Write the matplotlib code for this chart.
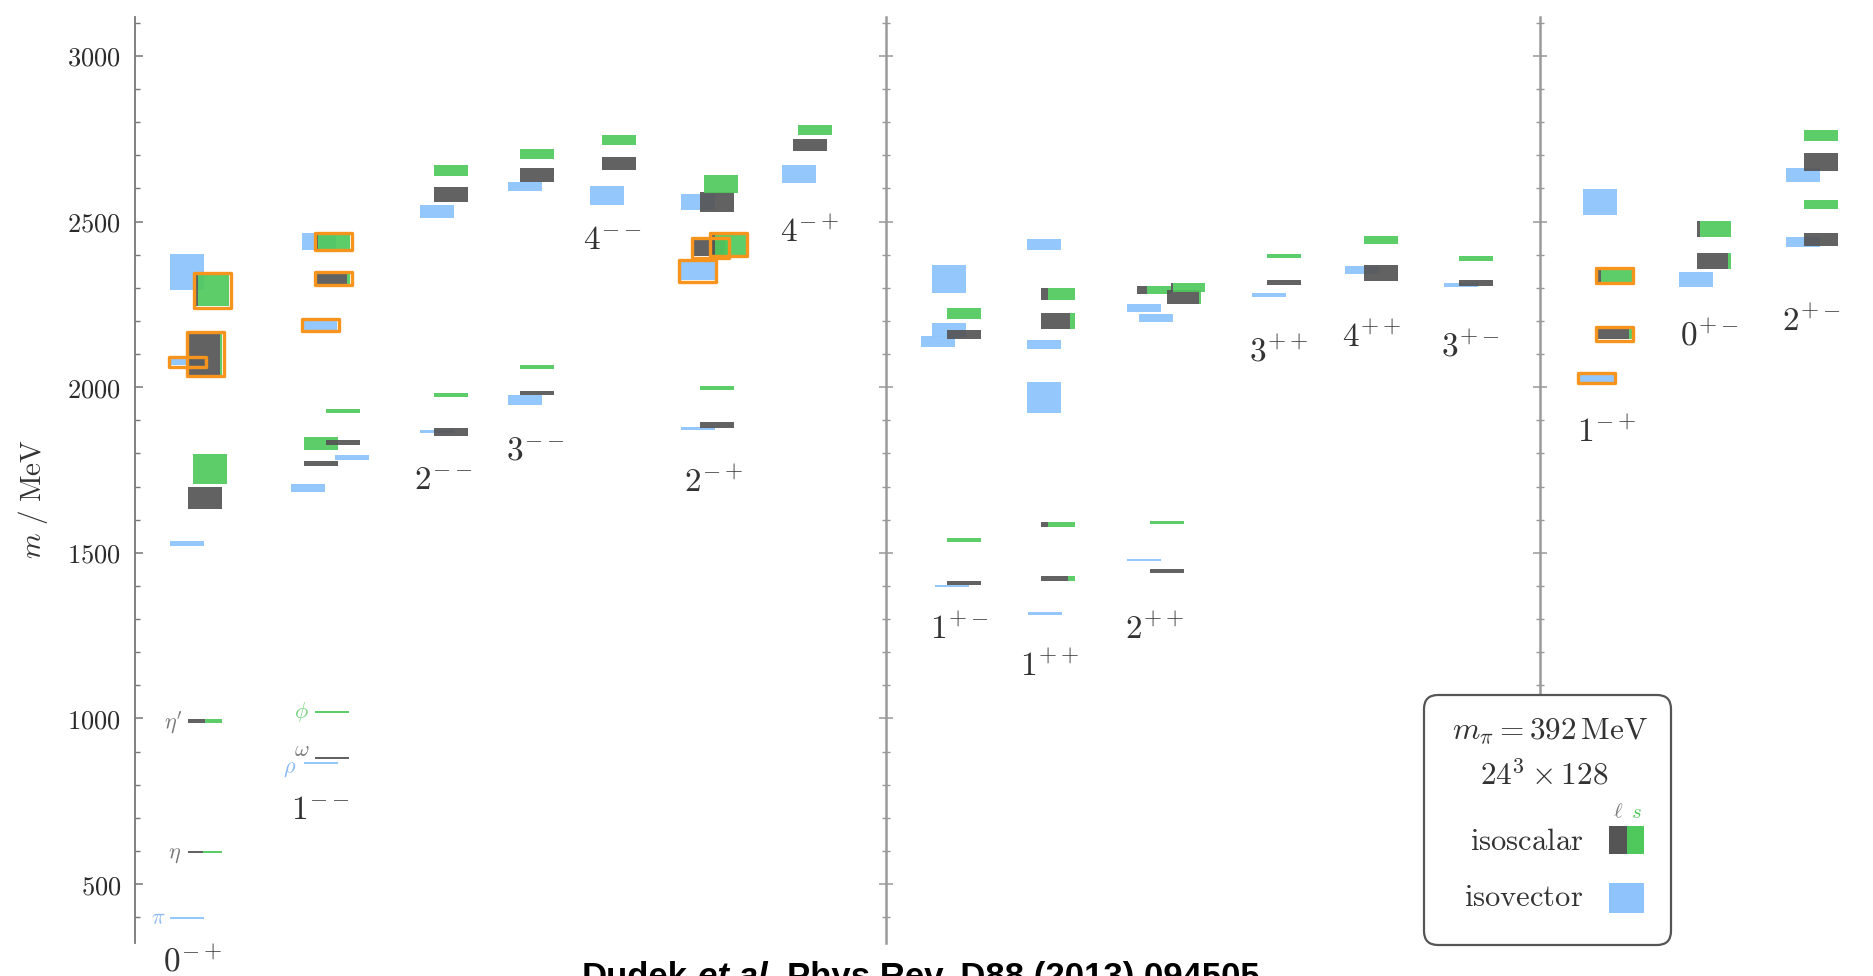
import matplotlib
matplotlib.use('Agg')
import matplotlib.pyplot as plt
import matplotlib.ticker as mticker
from matplotlib.patches import Rectangle, FancyBboxPatch
from matplotlib.transforms import IdentityTransform

plt.rcParams['mathtext.fontset'] = 'cm'
plt.rcParams['font.family'] = ['DejaVu Serif']

# ---------------- data ----------------
jpc_labels = ['0^{-+}', '1^{--}', '2^{--}', '3^{--}', '4^{--}', '2^{-+}', '4^{-+}',
              '1^{+-}', '1^{++}', '2^{++}', '3^{++}', '4^{++}', '3^{+-}',
              '1^{-+}', '0^{+-}', '2^{+-}']

# isovector states: column index, mass (MeV), half-height (MeV), hybrid flag
iv_col = [0, 0, 0, 0, 1, 1, 1, 1, 1, 2, 2, 3, 3, 4, 5, 5, 5, 6,
          7, 7, 7, 7, 8, 8, 8, 8, 9, 9, 9, 10, 11, 12, 13, 13, 14, 15, 15]
iv_mass = [397, 1528, 2077, 2348, 864, 1695, 1787, 2188, 2440, 1866, 2530, 1960, 2605,
           2579, 1876, 2352, 2558, 2643, 1400, 2138, 2174, 2327, 1317, 1970, 2128, 2431,
           1478, 2210, 2240, 2277, 2354, 2309, 2027, 2559, 2325, 2438, 2640]
iv_err = [3, 8, 10, 55, 3, 12, 8, 14, 25, 4, 20, 15, 14, 29, 4, 28, 24, 28, 3, 16, 21, 42,
          4, 47, 14, 16, 3, 12, 12, 6, 12, 7, 10, 38, 24, 14, 21]
iv_hybrid = [0, 0, 1, 0, 0, 0, 0, 1, 0, 0, 0, 0, 0, 0, 0, 1, 0, 0, 0, 0, 0, 0, 0, 0, 0, 0,
             0, 0, 0, 0, 0, 0, 1, 0, 0, 0, 0]

# isoscalar states: column, mass, half-height, light-quark fraction, hybrid flag
is_col = [0, 0, 0, 0, 0, 0, 1, 1, 1, 1, 1, 1, 1, 1, 2, 2, 2, 2, 3, 3, 3, 3, 4, 4,
          5, 5, 5, 5, 5, 5, 6, 6, 7, 7, 7, 7, 8, 8, 8, 8, 9, 9, 9, 9, 9,
          10, 10, 11, 11, 12, 12, 13, 13, 14, 14, 15, 15, 15, 15]
is_mass = [598, 992, 1665, 1752, 2100, 2292, 882, 1018, 1770, 1830, 1833, 1929, 2327, 2440,
           1866, 1977, 2582, 2655, 1982, 2062, 2640, 2704, 2675, 2746,
           1886, 1997, 2420, 2430, 2560, 2613, 2731, 2776, 1410, 1539, 2159, 2222,
           1423, 1586, 2199, 2281, 1445, 1591, 2292, 2272, 2301,
           2316, 2396, 2346, 2445, 2314, 2388, 2160, 2337, 2381, 2477, 2447, 2551, 2680, 2760]
is_err = [3, 6, 33, 45, 62, 48, 3, 3, 8, 20, 8, 6, 15, 22, 12, 6, 22, 17, 7, 6, 21, 15, 19, 15,
          9, 6, 25, 30, 30, 28, 18, 15, 6, 6, 14, 17, 7, 8, 24, 18, 7, 4, 12, 20, 14,
          7, 6, 24, 12, 9, 7, 16, 18, 25, 24, 20, 14, 26, 16]
is_light = [0.45, 0.5, 1.0, 0.0, 0.93, 0.08, 1.0, 0.0, 1.0, 0.0, 1.0, 0.0, 0.92, 0.05,
            1.0, 0.0, 1.0, 0.0, 1.0, 0.0, 1.0, 0.0, 1.0, 0.0,
            1.0, 0.0, 0.9, 0.1, 1.0, 0.0, 1.0, 0.0, 1.0, 0.0, 1.0, 0.0,
            0.78, 0.22, 0.85, 0.2, 1.0, 0.0, 0.3, 0.95, 0.05,
            1.0, 0.0, 1.0, 0.0, 1.0, 0.0, 0.92, 0.08, 0.9, 0.08, 1.0, 0.0, 1.0, 0.0]
is_hybrid = [0, 0, 0, 0, 1, 1, 0, 0, 0, 0, 0, 0, 1, 1, 0, 0, 0, 0, 0, 0, 0, 0, 0, 0,
             0, 0, 1, 1, 0, 0, 0, 0, 0, 0, 0, 0, 0, 0, 0, 0, 0, 0, 0, 0, 0,
             0, 0, 0, 0, 0, 0, 1, 1, 0, 0, 0, 0, 0, 0]

particle_names = [r"$\pi$", r"$\eta$", r"$\eta'$", r"$\rho$", r"$\omega$", r"$\phi$"]
particle_mass = [397, 590, 985, 850, 905, 1018]
particle_kind = ['iv', 'is', 'is', 'iv', 'is', 's']

# ---------------- layout (x in horizontal pixel-like units) ----------------
col_x = [188, 304, 434, 520, 602, 700, 793, 947, 1041, 1150, 1267, 1364, 1459, 1598, 1697, 1804]
iv_dx = [-18, -18, -18, -18, 0, -13, 31, -1, -2, -14, -14, -12, -12, -12, -19, -19, -19, -11,
         -12, -26, -15, -15, -13, -14, -14, -14, -23, -11, -23, -15, -19, -15, -18, -15, -18, -18, -18]
is_dx = [0, 0, 0, 5, 0, 7, 11, 11, 0, 0, 22, 22, 12, 12, 0, 0, 0, 0, 0, 0, 0, 0, 0, 0,
         0, 0, -6, 12, 0, 4, 0, 5, 0, 0, 0, 0, 0, 0, 0, 0, 0, 0, -13, 17, 21,
         0, 0, 0, 0, 0, 0, 0, 0, 0, 0, 0, 0, 0, 0]
label_x = [193, 320, 443, 535, 612, 714, 810, 959, 1050, 1155, 1279, 1372, 1470, 1607, 1709, 1811]
label_y = [262, 724, 1720, 1810, 2444, 1711, 2466, 1267, 1155, 1267, 2106, 2149, 2121, 1862, 2152, 2197]
particle_x = [166, 181, 183, 296, 309, 309]
dividers = [886, 1540]
BOX_W = 34

C_GREEN = '#4FC95C'
C_DARK = '#555555'
C_BLUE = '#8EC4FB'
C_ORANGE = '#F7941D'
C_TEXT = '#333333'

W, H = 1874, 976
fig = plt.figure(figsize=(W / 100, H / 100), dpi=100)
ax = fig.add_axes([135 / W, (H - 943) / H, (W - 135) / W, (943 - 17) / H])
ax.set_xlim(135, W)
ax.set_ylim(322, 3117.6)

for s in ['top', 'right', 'bottom']:
    ax.spines[s].set_visible(False)
ax.spines['left'].set_color('#777777')
ax.spines['left'].set_linewidth(1.3)
ax.set_xticks([])
ax.yaxis.set_major_locator(mticker.MultipleLocator(500))
ax.yaxis.set_minor_locator(mticker.MultipleLocator(100))
ax.yaxis.set_major_formatter(mticker.FuncFormatter(lambda v, p: f'${int(v)}$'))
ax.tick_params(axis='y', which='major', direction='in', length=6, width=1.1,
               color='#777777', labelsize=19, labelcolor='#2a2a2a', pad=10)
ax.tick_params(axis='y', which='minor', direction='in', length=3.5, width=1.0, color='#777777')

# divider axes with ticks
for xd in dividers:
    loc = (xd - 135) / (W - 135)
    sec = ax.secondary_yaxis(loc, functions=(lambda v: v, lambda v: v))
    sec.yaxis.set_major_locator(mticker.MultipleLocator(500))
    sec.yaxis.set_minor_locator(mticker.MultipleLocator(100))
    sec.tick_params(axis='y', which='major', direction='inout', length=10, width=1.1,
                    color='#999999', labelleft=False, labelright=False)
    sec.tick_params(axis='y', which='minor', direction='inout', length=6, width=1.0,
                    color='#999999')
    for sp in sec.spines.values():
        sp.set_color('#9a9a9a')
        sp.set_linewidth(1.8)

# isovector boxes
for c, m, e, hyb, dx in zip(iv_col, iv_mass, iv_err, iv_hybrid, iv_dx):
    x0 = col_x[c] + dx
    ax.add_patch(Rectangle((x0, m - e), BOX_W, 2 * e, facecolor=C_BLUE, edgecolor='none',
                           alpha=0.95, zorder=2))

# isoscalar boxes
for c, m, e, lf, hyb, dx in zip(is_col, is_mass, is_err, is_light, is_hybrid, is_dx):
    x0 = col_x[c] + dx
    if lf > 0:
        ax.add_patch(Rectangle((x0, m - e), BOX_W * lf, 2 * e, facecolor=C_DARK,
                               edgecolor='none', alpha=0.92, zorder=3))
    if lf < 1:
        ax.add_patch(Rectangle((x0 + BOX_W * lf, m - e), BOX_W * (1 - lf), 2 * e,
                               facecolor=C_GREEN, edgecolor='none', alpha=0.92, zorder=3))

# hybrid borders
pad_y = 5
for c, m, e, hyb, dx in zip(iv_col, iv_mass, iv_err, iv_hybrid, iv_dx):
    if hyb:
        x0 = col_x[c] + dx
        ax.add_patch(Rectangle((x0 - 1.5, m - e - pad_y), BOX_W + 3, 2 * e + 2 * pad_y,
                               fill=False, edgecolor=C_ORANGE, lw=2.4, joinstyle='round',
                               zorder=5))
for c, m, e, hyb, dx in zip(is_col, is_mass, is_err, is_hybrid, is_dx):
    if hyb:
        x0 = col_x[c] + dx
        ax.add_patch(Rectangle((x0 - 1.5, m - e - pad_y), BOX_W + 3, 2 * e + 2 * pad_y,
                               fill=False, edgecolor=C_ORANGE, lw=2.4, joinstyle='round',
                               zorder=5))

# JPC labels
for lab, lx, ly in zip(jpc_labels, label_x, label_y):
    ax.text(lx, ly, f'${lab}$', ha='center', va='center', fontsize=24, color=C_TEXT,
            clip_on=False)

# particle labels
pcolors = {'iv': '#6FA8F0', 'is': '#555555', 's': '#4FC95C'}
for name, pm, kind, px in zip(particle_names, particle_mass, particle_kind, particle_x):
    ax.text(px, pm, name, ha='right', va='center', fontsize=16, color=pcolors[kind],
            alpha=0.8)

# y label
fig.text(33 / W, 1 - 499 / H, r'$m\ /\ \mathrm{MeV}$', rotation=90, ha='center', va='center',
         fontsize=21, color=C_TEXT)

# legend box (display pixel coordinates)
T = IdentityTransform()
fig.add_artist(FancyBboxPatch((1424, H - 945), 247, 250,
                              boxstyle='round,pad=0,rounding_size=14', transform=T,
                              facecolor='white', edgecolor='#555555', lw=1.6, zorder=10))
fig.text(1550, H - 730, r'$m_\pi = 392\,\mathrm{MeV}$', transform=T, ha='center', va='center',
         fontsize=22.5, color=C_TEXT, zorder=11)
fig.text(1544, H - 777, r'$24^3 \times 128$', transform=T, ha='center', va='center',
         fontsize=22.5, color=C_TEXT, zorder=11)
fig.text(1618, H - 812, r'$\ell$', transform=T, ha='center', va='center',
         fontsize=15, color='#777777', zorder=11)
fig.text(1636, H - 812, r'$s$', transform=T, ha='center', va='center',
         fontsize=15, color=C_GREEN, zorder=11)
fig.text(1583, H - 842, r'$\mathrm{isoscalar}$', transform=T, ha='right', va='center',
         fontsize=22, color=C_TEXT, zorder=11)
fig.text(1583, H - 898, r'$\mathrm{isovector}$', transform=T, ha='right', va='center',
         fontsize=22, color=C_TEXT, zorder=11)
fig.add_artist(Rectangle((1609, H - 854), 18, 28, transform=T, facecolor=C_DARK,
                         edgecolor='none', zorder=11))
fig.add_artist(Rectangle((1627, H - 854), 17, 28, transform=T, facecolor=C_GREEN,
                         edgecolor='none', zorder=11))
fig.add_artist(Rectangle((1609, H - 913), 35, 30, transform=T, facecolor=C_BLUE,
                         edgecolor='none', zorder=11))

# citation (partly cut off at the bottom edge, as in the reference)
renderer = fig.canvas.get_renderer()
cfs = 25
xcur = 582
ytop = H - 961
gap = 0.278 * cfs * 100 / 72
for piece, style in [('Dudek', 'normal'), ('et al.', 'italic'),
                     ('Phys Rev. D88 (2013) 094505', 'normal')]:
    t = fig.text(xcur, ytop, piece, transform=T, ha='left', va='top', fontsize=cfs,
                 fontweight='bold', fontstyle=style, family='Liberation Sans', color='black')
    bb = t.get_window_extent(renderer)
    xcur = bb.x1 + gap

fig.savefig('out.png', dpi=100)
